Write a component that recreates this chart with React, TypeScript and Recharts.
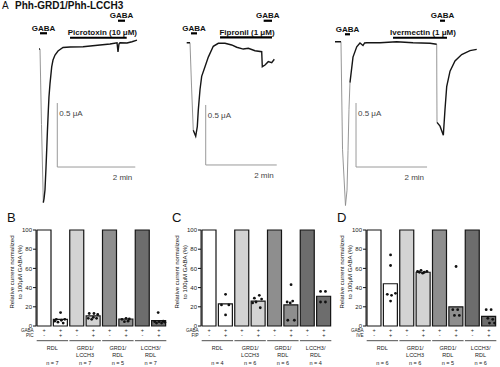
import React from 'react';
import {
  LineChart,
  Line,
  XAxis,
  YAxis,
  ReferenceLine,
  ComposedChart,
  Bar,
  Cell,
  Scatter,
} from 'recharts';

// ---- A: current traces (time in s, current in µA, inward = negative) ----
const picTime = [-1.5, 0, 2.3, 5.1, 6.2, 7.7, 9.2, 10.3, 11.5, 12.8, 13.8, 15.4, 18, 20, 23.1, 27.7, 35.4, 46.2, 66.2, 92.3, 107.7, 118.5, 120, 121.5, 123.1, 133.8, 141.5, 149.2];
const picCurrent = [0, 0, -0.59, -1.2, -1.17, -1.1, -0.93, -0.79, -0.63, -0.48, -0.375, -0.27, -0.14, -0.086, -0.047, -0.016, 0.012, 0.016, 0.018, 0.031, 0.039, 0.049, -0.023, 0.039, 0.049, 0.047, 0.057, 0.07];
const picFast = [[0, 5.1]];

const fipTime = [0, 5.6, 8.1, 11.1, 15.2, 17.9, 19.6, 22.5, 25.3, 30.9, 36.5, 44.9, 53.4, 64.7, 76, 84.5, 95.6, 104.1, 115.4, 126.7, 127.7, 132.3, 137.8, 143.6, 148];
const fipCurrent = [0, 0, -0.353, -0.73, -0.78, -0.7, -0.56, -0.39, -0.28, -0.2, -0.12, -0.03, -0.005, -0.005, -0.019, -0.038, -0.053, -0.047, -0.067, -0.075, -0.2, -0.186, -0.158, -0.167, -0.138];
const fipFast = [[5.6, 11.1]];

const iveTime = [0, 10.1, 12.7, 17.7, 20.3, 22, 23.6, 25.3, 30.4, 36.7, 42.2, 47.3, 50, 53.7, 76, 104.2, 131.8, 160.5, 171.8, 172, 172.3, 177.4, 183, 185.8, 188.7, 194.3, 202.7, 214, 228, 239.4];
const iveCurrent = [0, 0, -0.84, -1.28, -1.16, -0.85, -0.53, -0.32, -0.12, -0.04, -0.01, -0.03, -0.01, -0.008, -0.008, 0, -0.008, -0.012, -0.02, -0.33, -0.63, -0.66, -0.73, -0.53, -0.35, -0.23, -0.15, -0.1, -0.07, -0.06];
const iveFast = [[10.1, 25.3], [171.8, 172.3]];

// application windows [start, end] in s
const picGaba1 = [0, 10.8];
const picDrug = [46.2, 133.4];
const picGaba2 = [120, 130.8];
const fipGaba1 = [7.3, 17.4];
const fipDrug = [56.3, 144.1];
const fipGaba2 = [130, 144.1];
const iveGaba1 = [16.9, 25.3];
const iveDrug = [98, 189.2];
const iveGaba2 = [177.4, 185.8];

// ---- B-D: relative current (% of 100 µM GABA) ----
const groupNames = [['RDL'], ['GRD1/', 'LCCH3'], ['GRD1/', 'RDL'], ['LCCH3/', 'RDL']];
const gabaMeans = [100, 100, 100, 100];

const picMeans = [7, 10.5, 7.3, 5.5];
const picCounts = [7, 7, 5, 7];
// [offset inside bar, value]
const picPoints = [
  [[0, 14], [-0.26, 7], [0.05, 6], [0.26, 7], [-0.16, 4], [0.16, 3], [-0.36, 5]],
  [[-0.25, 13], [0.04, 13], [0.27, 12], [-0.31, 8], [0, 9], [0.2, 8], [-0.1, 7]],
  [[-0.25, 7], [0, 8], [0.2, 7.3], [-0.1, 4.5], [0.12, 5]],
  [[-0.04, 14], [-0.25, 4.5], [0.02, 4.5], [0.27, 5], [-0.14, 3], [0.17, 3], [0.37, 4]],
];

const fipMeans = [23, 26, 22, 31];
const fipCounts = [4, 6, 6, 4];
const fipPoints = [
  [[0, 33], [-0.25, 22], [0.2, 22], [0, 11.5]],
  [[0.06, 32], [-0.24, 29], [0.2, 28], [-0.35, 24], [0.12, 19], [-0.14, 25]],
  [[0, 43], [-0.24, 25], [0.1, 26], [-0.2, 6], [0.2, 6], [-0.05, 24]],
  [[-0.2, 36], [0.1, 36], [-0.2, 25], [0.1, 25]],
];

const iveMeans = [44, 56, 20, 10];
const iveCounts = [6, 6, 5, 6];
const ivePoints = [
  [[0, 74], [0, 63], [-0.2, 33], [0.06, 32], [0.3, 34], [0, 26]],
  [[-0.35, 57], [-0.14, 58], [0.06, 56], [0.22, 57], [-0.04, 55], [-0.24, 56]],
  [[0, 62], [-0.2, 17], [0.1, 17], [-0.1, 11], [0.2, 11]],
  [[-0.16, 17], [0.14, 17], [-0.06, 8], [0.24, 7], [0.04, 3], [0.35, 3]],
];

const yTicks = [0, 20, 40, 60, 80, 100];

const FONT = 'Arial, "Liberation Sans", sans-serif';
const groupFills = ['#ffffff', '#d3d3d3', '#8e8e8e', '#6d6d6d'];

const AppLabel = (props: any) => {
  const vb = props.viewBox;
  if (!vb) return null;
  return (
    <text
      x={vb.x + vb.width / 2 + (props.shift || 0)}
      y={vb.y - 2.5}
      textAnchor="middle"
      fontSize={8}
      fontWeight="bold"
      fontFamily={FONT}
      fill="#111"
    >
      {props.text}
    </text>
  );
};

const ScaleLabel = (props: any) => {
  const vb = props.viewBox;
  if (!vb) return null;
  const vertical = props.mode === 'v';
  return (
    <text
      x={vertical ? vb.x + 2 : vb.x + vb.width - 3}
      y={vb.y + 13}
      textAnchor={vertical ? 'start' : 'end'}
      fontSize={8}
      fontFamily={FONT}
      fill="#444"
    >
      {props.text}
    </text>
  );
};

const TW = 165;
const TH = 210;

function Trace({ left, originX, originY, pxPerSec, pxPerUA, time, current, fast, gaba1, drug, gaba2, levels, scaleAt, drugLabel, drugShift }: any) {
  // fast transients are drawn thin and grey, the rest of the record thick and black
  const inside = (t: number) => fast.some(([a, b]: number[]) => t > a && t < b);
  const onFast = (t: number) => fast.some(([a, b]: number[]) => t >= a && t <= b);
  const data = time.map((t: number, i: number) => ({
    t,
    slow: inside(t) ? null : current[i],
    quick: onFast(t) ? current[i] : null,
  }));
  const xDomain = [-originX / pxPerSec, (TW - originX) / pxPerSec];
  const yDomain = [-(TH - originY) / pxPerUA, originY / pxPerUA];
  const seg = (w: number[], y: number) => [{ x: w[0], y }, { x: w[1], y }];
  return (
    <div style={{ position: 'absolute', left, top: 0 }}>
      <LineChart width={TW} height={TH} data={data} margin={{ top: 0, right: 0, bottom: 0, left: 0 }}>
        <XAxis dataKey="t" type="number" domain={xDomain} hide allowDataOverflow />
        <YAxis type="number" domain={yDomain} hide allowDataOverflow />
        <ReferenceLine
          segment={[{ x: scaleAt[0], y: scaleAt[1] }, { x: scaleAt[0], y: scaleAt[1] + 0.5 }]}
          stroke="#9a9a9a"
          strokeWidth={1}
          label={<ScaleLabel mode="v" text="0.5 μA" />}
        />
        <ReferenceLine
          segment={[{ x: scaleAt[0], y: scaleAt[1] }, { x: scaleAt[0] + 120, y: scaleAt[1] }]}
          stroke="#9a9a9a"
          strokeWidth={1}
          label={<ScaleLabel mode="h" text="2 min" />}
        />
        <ReferenceLine segment={seg(gaba1, levels[0])} stroke="#000" strokeWidth={2.2} label={<AppLabel text="GABA" />} />
        <ReferenceLine segment={seg(drug, levels[1])} stroke="#000" strokeWidth={2.2} label={<AppLabel text={drugLabel} shift={drugShift} />} />
        <ReferenceLine segment={seg(gaba2, levels[2])} stroke="#000" strokeWidth={2.2} label={<AppLabel text="GABA" />} />
        <Line
          dataKey="quick"
          type="linear"
          stroke="#8a8a8a"
          strokeWidth={0.9}
          dot={false}
          activeDot={false}
          connectNulls={false}
          isAnimationActive={false}
        />
        <Line
          dataKey="slow"
          type="linear"
          stroke="#151515"
          strokeWidth={1.4}
          dot={false}
          activeDot={false}
          connectNulls={false}
          isAnimationActive={false}
        />
      </LineChart>
    </div>
  );
}

const CW = 170;
const CH = 167;
const AXIS_W = 36;
const M_RIGHT = 3;
const BAND = (CW - AXIS_W - M_RIGHT) / 8;

const CondTick = (props: any) => {
  const { x, y, index, drug, counts } = props;
  const gi = Math.floor(index / 2);
  const isDrug = index % 2 === 1;
  return (
    <g fontFamily={FONT} fill="#222">
      {index === 0 && (
        <>
          <text x={x - 10.5} y={y + 6} textAnchor="end" fontSize={4.6}>GABA</text>
          <text x={x - 10.5} y={y + 11} textAnchor="end" fontSize={4.6}>{drug}</text>
        </>
      )}
      <text x={x} y={y + 6} textAnchor="middle" fontSize={5.5}>+</text>
      <text x={x} y={y + 11} textAnchor="middle" fontSize={5.5}>{isDrug ? '+' : '-'}</text>
      {!isDrug && (
        <>
          <line x1={x - 7.5} x2={x + BAND + 7.5} y1={y + 14.7} y2={y + 14.7} stroke="#222" strokeWidth={0.8} />
          {groupNames[gi].map((s, k) => (
            <text key={k} x={x + BAND / 2} y={y + 24.3 + k * 6.7} textAnchor="middle" fontSize={5.5}>
              {s}
            </text>
          ))}
          <text x={x + BAND / 2} y={y + 39.3} textAnchor="middle" fontSize={5.5}>
            {`n = ${counts[gi]}`}
          </text>
        </>
      )}
    </g>
  );
};

const YLabel = (props: any) => {
  const vb = props.viewBox || { x: 0, y: 30, width: AXIS_W, height: 96 };
  const cy = vb.y + vb.height / 2 - 6;
  return (
    <g transform={`translate(${vb.x},${cy}) rotate(-90)`} fontFamily={FONT} fontSize={6} fill="#111" textAnchor="middle">
      <text x={0} y={13.5}>Relative current normalized</text>
      <text x={0} y={21.5}>to 100μM GABA (%)</text>
    </g>
  );
};

const Dot = (p: any) => <circle cx={p.cx} cy={p.cy} r={1.4} fill="#111" />;

function BarPanel({ left, means, points, counts, drug }: any) {
  const rows: any[] = [];
  groupNames.forEach((_, i) => {
    rows.push({ key: `${i}-g`, value: gabaMeans[i], gi: i });
    rows.push({ key: `${i}-d`, value: means[i], gi: i });
  });
  const pts = points.flatMap((list: number[][], gi: number) =>
    list.map(([dx, v]) => ({ px: gi * 2 + 1.5 + dx, pv: v }))
  );
  return (
    <div style={{ position: 'absolute', left, top: 200 }}>
      <ComposedChart
        width={CW}
        height={CH}
        data={rows}
        barCategoryGap={1}
        margin={{ top: 30, right: M_RIGHT, bottom: 0, left: 0 }}
      >
        <XAxis
          xAxisId="cat"
          dataKey="key"
          type="category"
          interval={0}
          height={41}
          tickSize={0}
          tickMargin={0}
          axisLine={false}
          tickLine={false}
          tick={(p: any) => <CondTick {...p} drug={drug} counts={counts} />}
        />
        <XAxis xAxisId="pts" dataKey="px" type="number" domain={[0, 8]} hide />
        <YAxis
          type="number"
          domain={[0, 100]}
          ticks={yTicks}
          interval={0}
          width={AXIS_W}
          tickSize={3}
          tickMargin={1}
          axisLine={{ stroke: '#111' }}
          tickLine={{ stroke: '#111' }}
          tick={{ fontSize: 6, fill: '#222', fontFamily: FONT }}
          label={<YLabel />}
        />
        <Bar xAxisId="cat" dataKey="value" stroke="#151515" strokeWidth={1.2} isAnimationActive={false}>
          {rows.map((r, i) => (
            <Cell key={i} fill={groupFills[r.gi]} />
          ))}
        </Bar>
        <Scatter xAxisId="pts" data={pts} dataKey="pv" shape={Dot} isAnimationActive={false} />
      </ComposedChart>
    </div>
  );
}

const letter = (ch: string, left: number, top: number, size: number, weight = 'normal') => (
  <div
    style={{
      position: 'absolute',
      left,
      top,
      fontSize: size,
      lineHeight: `${size}px`,
      fontFamily: FONT,
      fontWeight: weight as any,
      color: '#111',
      whiteSpace: 'nowrap',
    }}
  >
    {ch}
  </div>
);

export default function App() {
  return (
    <div
      style={{
        position: 'absolute',
        left: 0,
        top: 0,
        width: 500,
        height: 367,
        background: '#fff',
        overflow: 'hidden',
      }}
    >
      {letter('A', 2, 1, 10)}
      {letter('Phh-GRD1/Phh-LCCH3', 15, 1, 10, 'bold')}
      <Trace
        left={0}
        originX={40}
        originY={49}
        pxPerSec={0.65}
        pxPerUA={128}
        time={picTime}
        current={picCurrent}
        fast={picFast}
        gaba1={picGaba1}
        drug={picDrug}
        gaba2={picGaba2}
        levels={[0.123, 0.088, 0.221]}
        scaleAt={[26.6, -0.922]}
        drugLabel="Picrotoxin (10 μM)"
        drugShift={4}
      />
      <Trace
        left={165}
        originX={21.7}
        originY={42.7}
        pxPerSec={0.592}
        pxPerUA={120}
        time={fipTime}
        current={fipCurrent}
        fast={fipFast}
        gaba1={fipGaba1}
        drug={fipDrug}
        gaba2={fipGaba2}
        levels={[0.078, 0.045, 0.183]}
        scaleAt={[32.1, -1.019]}
        drugLabel="Fipronil (1 μM)"
        drugShift={1}
      />
      <Trace
        left={330}
        originX={5}
        originY={41.7}
        pxPerSec={0.592}
        pxPerUA={128}
        time={iveTime}
        current={iveCurrent}
        fast={iveFast}
        gaba1={iveGaba1}
        drug={iveDrug}
        gaba2={iveGaba2}
        levels={[0.058, 0.031, 0.164]}
        scaleAt={[35.5, -0.979]}
        drugLabel="Ivermectin (1 μM)"
        drugShift={3}
      />
      {letter('B', 7, 211, 13)}
      {letter('C', 172, 211, 13)}
      {letter('D', 337, 211, 13)}
      <BarPanel left={0} means={picMeans} points={picPoints} counts={picCounts} drug="PIC" />
      <BarPanel left={165} means={fipMeans} points={fipPoints} counts={fipCounts} drug="FIP" />
      <BarPanel left={330} means={iveMeans} points={ivePoints} counts={iveCounts} drug="IVE" />
    </div>
  );
}
